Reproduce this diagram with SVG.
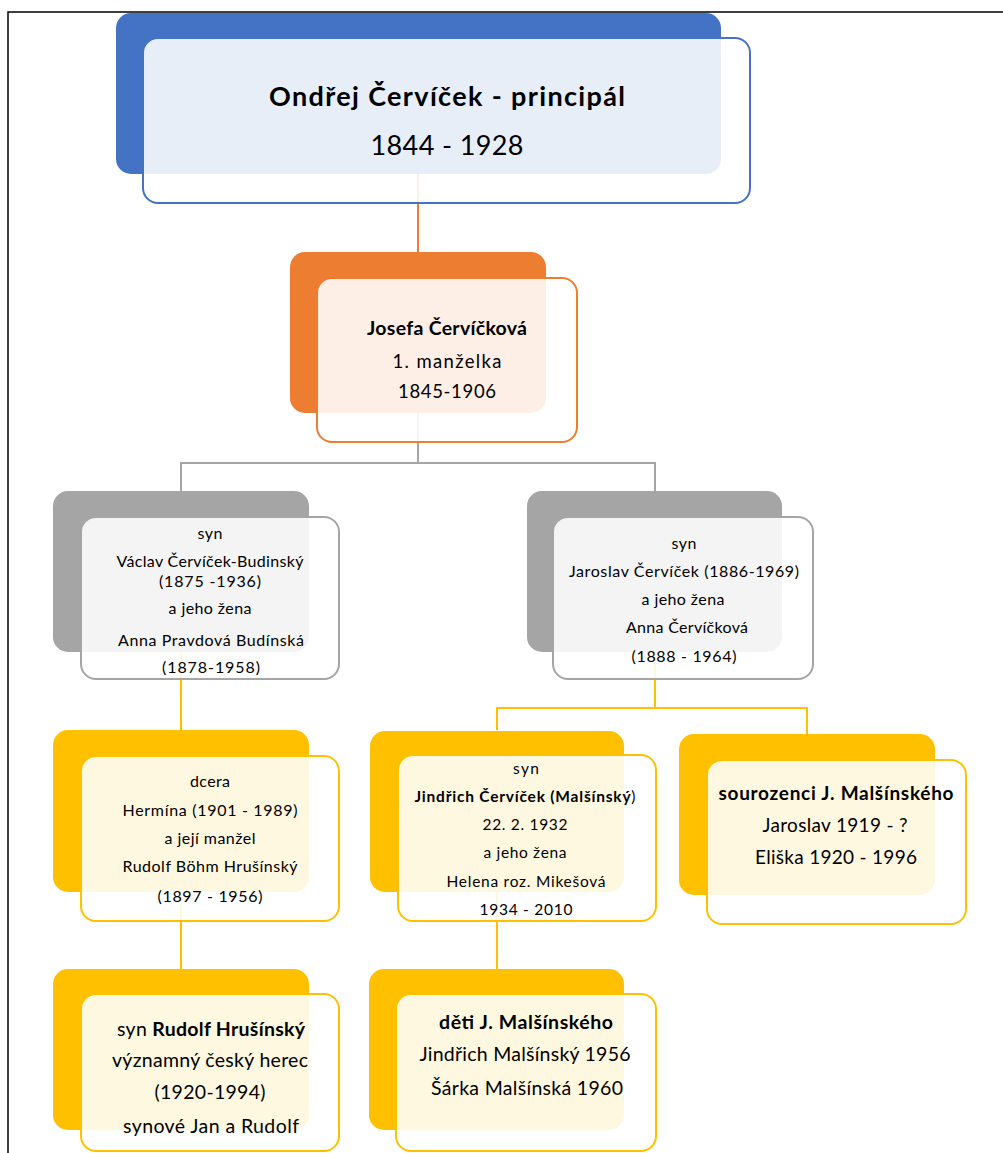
<svg xmlns="http://www.w3.org/2000/svg" width="1003" height="1153" viewBox="0 0 1003 1153">
<style>
text{font-family:Lato,"Noto Sans",sans-serif;fill:#000;text-anchor:middle}
.b{font-weight:bold}
.n{font-weight:normal}
.front{fill:#fff;fill-opacity:0.88;stroke-width:2}
.conn{fill:none;stroke-width:2}
</style>
<rect width="1003" height="1153" fill="#fff"/>
<path d="M8,1153 V12 H1003" fill="none" stroke="#000" stroke-width="1.5"/>
<g id="connectors">
<path class="conn" stroke="#ED7D31" d="M418,174 V252"/>
<path class="conn" stroke="#A5A5A5" d="M418,412 V463 M181,491 V463 H655 V491"/>
<path class="conn" stroke="#FFC000" d="M181,652 V730"/>
<path class="conn" stroke="#FFC000" d="M655,652 V708 M497,730 V708 H807 V734"/>
<path class="conn" stroke="#FFC000" d="M181,892 V969"/>
<path class="conn" stroke="#FFC000" d="M497,892 V969"/>
</g>
<g id="ondrej">
<rect x="116" y="13" width="605" height="161" rx="15" fill="#4472C4"/>
<rect class="front" x="143" y="38" width="607" height="165" rx="15" stroke="#4472C4"/>
<text class="b" x="447" y="106" font-size="27" textLength="356">Ondřej Červíček - principál</text>
<text x="447" y="155" font-size="27" textLength="153">1844 - 1928</text>
</g>
<g id="josefa">
<rect x="290" y="252" width="256" height="161" rx="15" fill="#ED7D31"/>
<rect class="front" x="317" y="278" width="260" height="164" rx="15" stroke="#ED7D31"/>
<text class="b" x="447" y="335" font-size="19.5" textLength="160">Josefa Červíčková</text>
<text x="447" y="368" font-size="18.5" textLength="109">1. manželka</text>
<text x="447" y="398" font-size="18.5" textLength="98">1845-1906</text>
</g>
<g id="vaclav">
<rect x="53" y="491" width="256" height="161" rx="15" fill="#A5A5A5"/>
<rect class="front" x="81" y="517" width="258" height="162" rx="15" stroke="#A5A5A5"/>
<g font-size="16">
<text x="210" y="539" textLength="25">syn</text>
<text x="210" y="567" textLength="187">Václav  Červíček-Budinský</text>
<text x="210" y="587" textLength="102">(1875 -1936)</text>
<text x="210" y="614" textLength="83">a jeho žena</text>
<text x="211" y="646" textLength="186">Anna Pravdová Budínská</text>
<text x="211" y="673" textLength="98">(1878-1958)</text>
</g>
</g>
<g id="jaroslav">
<rect x="527" y="491" width="255" height="161" rx="15" fill="#A5A5A5"/>
<rect class="front" x="553" y="517" width="260" height="162" rx="15" stroke="#A5A5A5"/>
<g font-size="16">
<text x="684" y="549" textLength="25">syn</text>
<text x="684" y="577" textLength="230">Jaroslav Červíček  (1886-1969)</text>
<text x="683" y="605" textLength="83">a jeho žena</text>
<text x="687" y="633" textLength="122">Anna Červíčková</text>
<text x="684" y="662" textLength="105">(1888 - 1964)</text>
</g>
</g>
<g id="hermina">
<rect x="53" y="730" width="256" height="162" rx="15" fill="#FFC000"/>
<rect class="front" x="81" y="756" width="258" height="165" rx="15" stroke="#FFC000"/>
<g font-size="16">
<text x="210" y="787" textLength="40">dcera</text>
<text x="210" y="816" textLength="175">Hermína  (1901 - 1989)</text>
<text x="210" y="844" textLength="91">a její  manžel</text>
<text x="210" y="872" textLength="175">Rudolf Böhm Hrušínský</text>
<text x="210" y="902" textLength="105">(1897 - 1956)</text>
</g>
</g>
<g id="jindrich">
<rect x="370" y="731" width="254" height="161" rx="15" fill="#FFC000"/>
<rect class="front" x="398" y="755" width="258" height="166" rx="15" stroke="#FFC000"/>
<g font-size="15.5">
<text x="526" y="774" textLength="26">syn</text>
<text class="b" x="525" y="802" textLength="221">Jindřich Červíček (Malšínský<tspan class="n">)</tspan></text>
<text x="525" y="830" textLength="85">22. 2. 1932</text>
<text x="525" y="858" textLength="83">a jeho žena</text>
<text x="526" y="887" textLength="159">Helena  roz. Mikešová</text>
<text x="526" y="915" textLength="93">1934 - 2010</text>
</g>
</g>
<g id="sourozenci">
<rect x="679" y="734" width="256" height="161" rx="15" fill="#FFC000"/>
<rect class="front" x="707" y="760" width="259" height="164" rx="15" stroke="#FFC000"/>
<g font-size="19">
<text class="b" x="836" y="800" textLength="235">sourozenci J. Malšínského</text>
<text x="835" y="832" textLength="145">Jaroslav 1919 - ?</text>
<text x="836" y="864" textLength="162">Eliška 1920 - 1996</text>
</g>
</g>
<g id="rudolf">
<rect x="53" y="969" width="256" height="161" rx="15" fill="#FFC000"/>
<rect class="front" x="81" y="994" width="258" height="157" rx="15" stroke="#FFC000"/>
<g font-size="19.5">
<text x="211" y="1036" textLength="188">syn <tspan class="b">Rudolf Hrušínský</tspan></text>
<text x="210" y="1067" textLength="196">významný český herec</text>
<text x="210" y="1099" textLength="111">(1920-1994)</text>
<text x="211" y="1133" textLength="176">synové Jan a Rudolf</text>
</g>
</g>
<g id="deti">
<rect x="369" y="969" width="255" height="161" rx="15" fill="#FFC000"/>
<rect class="front" x="396" y="994" width="260" height="157" rx="15" stroke="#FFC000"/>
<g font-size="19.5">
<text class="b" x="526" y="1029" textLength="174">děti J. Malšínského</text>
<text x="525" y="1061" textLength="211">Jindřich Malšínský 1956</text>
<text x="527" y="1095" textLength="192">Šárka Malšínská 1960</text>
</g>
</g>
</svg>
